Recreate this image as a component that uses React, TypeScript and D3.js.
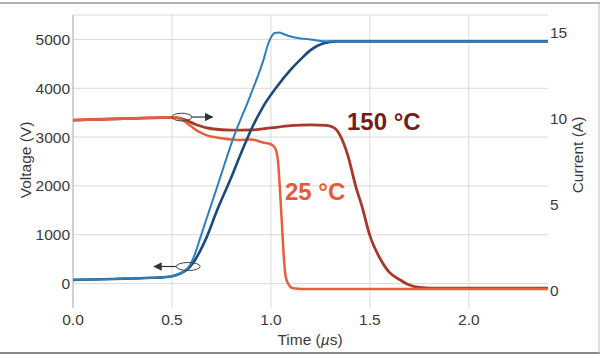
import React from "react";
import * as d3 from "d3";

// ---- data ----
const xTicks = [0, 0.5, 1.0, 1.5, 2.0];
const voltTicks = [0, 1000, 2000, 3000, 4000, 5000];
const currTicks = [0, 5, 10, 15];

const tV25 = [0, 0.1, 0.2, 0.3, 0.4, 0.45, 0.5, 0.53, 0.56, 0.58, 0.6, 0.62, 0.64, 0.734, 0.81, 0.896, 0.96, 0.99, 1.02, 1.04, 1.07, 1.1, 1.15, 1.2, 1.27, 1.35, 1.6, 1.9, 2.2, 2.4];
const vV25 = [75, 85, 95, 105, 118, 128, 150, 185, 250, 320, 450, 650, 900, 2050, 2980, 3850, 4550, 4950, 5130, 5140, 5100, 5060, 5020, 5000, 4965, 4960, 4960, 4960, 4960, 4960];

const tV150 = [0, 0.1, 0.2, 0.3, 0.4, 0.45, 0.5, 0.53, 0.56, 0.58, 0.61, 0.64, 0.67, 0.73, 0.795, 0.85, 0.9, 0.96, 1.03, 1.1, 1.15, 1.2, 1.266, 1.33, 1.6, 1.9, 2.2, 2.4];
const vV150 = [75, 85, 95, 105, 118, 128, 150, 185, 245, 300, 440, 650, 900, 1520, 2131, 2680, 3150, 3620, 4030, 4380, 4590, 4780, 4920, 4960, 4960, 4960, 4960, 4960];

const tI150 = [0, 0.15, 0.3, 0.45, 0.52, 0.57, 0.62, 0.7, 0.8, 0.9, 1.0, 1.1, 1.2, 1.28, 1.32, 1.35, 1.39, 1.43, 1.46, 1.5, 1.55, 1.6, 1.65, 1.69, 1.75, 1.85, 2.1, 2.4];
const iI150 = [9.9, 9.95, 10.0, 10.05, 10.05, 9.9, 9.65, 9.4, 9.32, 9.33, 9.45, 9.58, 9.62, 9.6, 9.45, 9.0, 7.8, 6.0, 4.9, 3.2, 1.9, 1.05, 0.65, 0.38, 0.2, 0.15, 0.15, 0.15];

const tI25 = [0, 0.15, 0.3, 0.45, 0.52, 0.56, 0.59, 0.64, 0.68, 0.75, 0.83, 0.9, 0.96, 1.0, 1.02, 1.035, 1.045, 1.055, 1.065, 1.075, 1.09, 1.11, 1.2, 1.6, 2.0, 2.4];
const iI25 = [9.9, 9.95, 10.0, 10.05, 10.05, 9.85, 9.6, 9.2, 9.0, 8.85, 8.75, 8.78, 8.6, 8.5, 8.3, 7.6, 6.0, 4.0, 2.0, 0.8, 0.35, 0.15, 0.1, 0.1, 0.1, 0.1];

const labels = ["150 °C", "25 °C"];

// ---- layout ----
const W = 600, H = 358;
const L = 73, R = 548, T = 15, B = 308;
const font = "'Liberation Sans', Arial, sans-serif";

const x = d3.scaleLinear().domain([0, 2.4]).range([L, R]);
const yV = d3.scaleLinear().domain([-500, 5500]).range([B, T]);
const yI = d3.scaleLinear().domain([-1, 16]).range([B, T]);

const zip = (a: number[], b: number[]) => a.map((v, i) => [v, b[i]] as [number, number]);

const lineV = d3.line<[number, number]>().x(d => x(d[0])).y(d => yV(d[1])).curve(d3.curveMonotoneX);
const lineI = d3.line<[number, number]>().x(d => x(d[0])).y(d => yI(d[1])).curve(d3.curveMonotoneX);

export default function App() {
  const grid = "#d9d9d9";
  const txt = "#3a3a3a";
  return (
    <svg width={W} height={H} style={{ position: "absolute", left: 0, top: 0, background: "#fff" }}>
      <defs>
        <marker id="ah" viewBox="0 0 10 10" refX="9" refY="5" markerWidth="7" markerHeight="7" orient="auto-start-reverse">
          <path d="M0,0 L10,5 L0,10 z" fill="#333" />
        </marker>
      </defs>
      {/* outer frame */}
      <line x1={0} x2={600} y1={3} y2={3} stroke="#9a9a9a" strokeWidth={1.5} />
      <line x1={0} x2={600} y1={353} y2={353} stroke="#8a8a8a" strokeWidth={2} />
      <line x1={599} x2={599} y1={3} y2={353} stroke="#bbbbbb" strokeWidth={1} />

      {/* grid */}
      {voltTicks.map(v => (
        <line key={"h" + v} x1={L} x2={R} y1={yV(v)} y2={yV(v)} stroke={grid} strokeWidth={1} />
      ))}
      {xTicks.filter(t => t > 0).map(t => (
        <line key={"v" + t} x1={x(t)} x2={x(t)} y1={T} y2={B} stroke={grid} strokeWidth={1} />
      ))}
      <line x1={L} x2={R} y1={T} y2={T} stroke={grid} strokeWidth={1} />
      <line x1={L} x2={L} y1={T} y2={B} stroke="#a6a6a6" strokeWidth={1} />

      {/* current traces */}
      <path d={lineI(zip(tI150, iI150)) || ""} fill="none" stroke="#a8382a" strokeWidth={2.8} />
      <path d={lineI(zip(tI25, iI25)) || ""} fill="none" stroke="#e4603e" strokeWidth={2.5} />
      {/* voltage traces */}
      <path d={lineV(zip(tV150, vV150)) || ""} fill="none" stroke="#1d4a7c" strokeWidth={2.6} />
      <path d={lineV(zip(tV25, vV25)) || ""} fill="none" stroke="#2f7fbd" strokeWidth={2.0} />

      {/* annotations */}
      <ellipse cx={x(0.55)} cy={yI(10.08)} rx={10} ry={3.8} fill="none" stroke="#444" strokeWidth={1} />
      <line x1={x(0.55) + 10} x2={x(0.705)} y1={yI(10.08)} y2={yI(10.08)} stroke="#333" strokeWidth={1.2} markerEnd="url(#ah)" />
      <ellipse cx={x(0.582)} cy={yV(350)} rx={12} ry={4} fill="none" stroke="#444" strokeWidth={1} />
      <line x1={x(0.582) - 12} x2={x(0.41)} y1={yV(350)} y2={yV(350)} stroke="#333" strokeWidth={1.2} markerEnd="url(#ah)" />

      <text x={347} y={130} fontFamily={font} fontWeight="bold" fontSize={24} fill="#721c1c">{labels[0]}</text>
      <text x={285} y={200} fontFamily={font} fontWeight="bold" fontSize={24} fill="#e65a3a">{labels[1]}</text>

      {/* left axis labels */}
      {voltTicks.map(v => (
        <text key={"lt" + v} x={70} y={yV(v)} dy="0.35em" textAnchor="end" fontFamily={font} fontSize={15.5} fill={txt}>{v}</text>
      ))}
      {/* right axis labels */}
      {currTicks.map(v => (
        <text key={"rt" + v} x={550} y={yI(v)} dy="0.35em" textAnchor="start" fontFamily={font} fontSize={15.5} fill={txt}>{v}</text>
      ))}
      {/* x axis labels */}
      {xTicks.map(t => (
        <text key={"xt" + t} x={x(t)} y={325} textAnchor="middle" fontFamily={font} fontSize={15.5} fill={txt}>{t.toFixed(1)}</text>
      ))}
      {/* titles */}
      <text x={310} y={345} textAnchor="middle" fontFamily={font} fontSize={15.5} fill={txt}>
        Time (<tspan fontStyle="italic">µ</tspan>s)
      </text>
      <text transform="translate(31,160) rotate(-90)" textAnchor="middle" fontFamily={font} fontSize={15.5} fill={txt}>Voltage (V)</text>
      <text transform="translate(583,155) rotate(-90)" textAnchor="middle" fontFamily={font} fontSize={15.5} fill={txt}>Current (A)</text>
    </svg>
  );
}
